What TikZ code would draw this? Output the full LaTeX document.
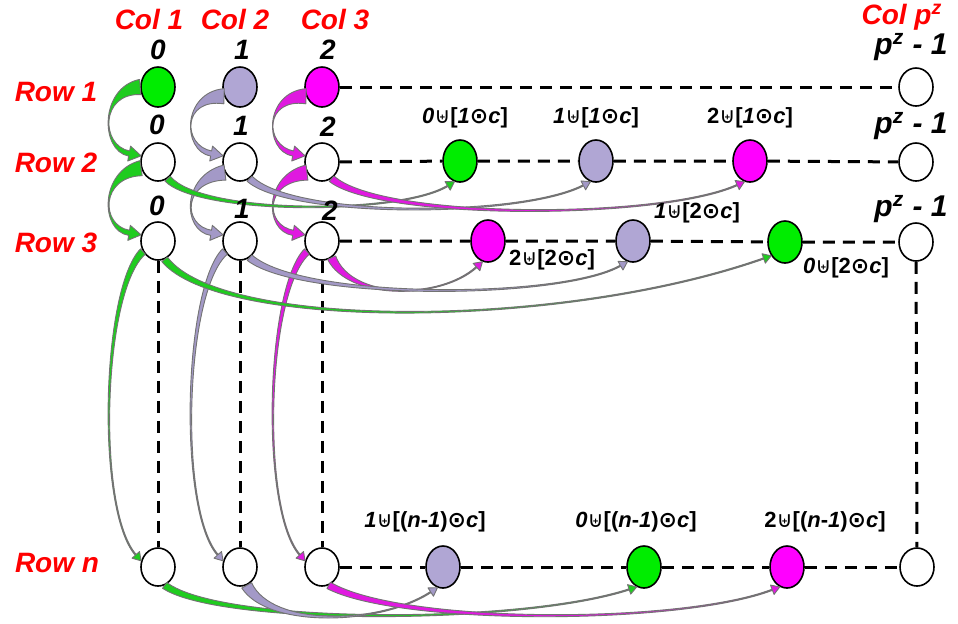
\documentclass[tikz,border=0pt]{standalone}
\usepackage{fontspec}
\setmainfont{Liberation Sans}
\newfontfamily\opfont{DejaVu Sans}
\usetikzlibrary{shapes.geometric,calc}
\definecolor{mygreen}{rgb}{0,0.93,0}
\definecolor{mylilac}{rgb}{0.69,0.65,0.83}
\definecolor{mymagenta}{rgb}{1,0,1}
\definecolor{arrgreen}{rgb}{0.12,0.8,0.12}
\definecolor{arrlilac}{rgb}{0.64,0.6,0.78}
\definecolor{arrmagenta}{rgb}{0.88,0.1,0.88}

\tikzset{
  cell/.style={ellipse, draw, line width=0.8pt, minimum width=17pt, minimum height=19pt, inner sep=0pt, fill=white},
  link/.style={line width=1.5pt, dash pattern=on 6pt off 4pt},
  band/.style={draw=black!55, line width=0.45pt, line join=round},
  rowlab/.style={text=red, font=\fontsize{14}{16}\selectfont\bfseries\itshape},
  numlab/.style={font=\fontsize{14}{16}\selectfont\bfseries\itshape},
  idxlab/.style={font=\fontsize{11}{13}\selectfont\bfseries}
}

% union and product signs
\newcommand{\shup}{{\opfont\mdseries ⊎}}
\newcommand{\shdot}{{\opfont\bfseries ⊙}}

% tapered curved arrow: fill, tail, control 1, control 2, tip, tail/neck/head half widths
\newcommand{\bandarrow}[8]{%
  \path (#2) coordinate (ba-s) (#3) coordinate (ba-c1) (#4) coordinate (ba-c2) (#5) coordinate (ba-h);
  \path ($(ba-h)!{1.6*#8}!(ba-c2)$) coordinate (ba-t);
  \path ($(ba-s)!#6!90:(ba-c1)$) coordinate (ba-s1)
        ($(ba-s)!#6!-90:(ba-c1)$) coordinate (ba-s2)
        ($(ba-t)!#7!-90:(ba-c2)$) coordinate (ba-t1)
        ($(ba-t)!#7!90:(ba-c2)$) coordinate (ba-t2)
        ($(ba-t)!#8!-90:(ba-c2)$) coordinate (ba-w1)
        ($(ba-t)!#8!90:(ba-c2)$) coordinate (ba-w2);
  \filldraw[band, fill=#1]
    (ba-s1) .. controls ($(ba-c1)+0.35*(ba-s1)-0.35*(ba-s)$) and ($(ba-c2)+(ba-t1)-(ba-t)$) .. (ba-t1)
    -- (ba-w1) -- (ba-h) -- (ba-w2) -- (ba-t2)
    .. controls ($(ba-c2)+(ba-t2)-(ba-t)$) and ($(ba-c1)+0.35*(ba-s2)-0.35*(ba-s)$) .. (ba-s2) -- cycle;
}

\begin{document}
\begin{tikzpicture}[x=0.5pt, y=-0.5pt]
\useasboundingbox (0,0) rectangle (958,623);

% Draw the first row
\node[cell, fill=mygreen, minimum height=20pt] (r1c1) at (158,87) {};
\node[cell, fill=mylilac, minimum height=20pt] (r1c2) at (240,87) {};
\node[cell, fill=mymagenta, minimum height=20pt] (r1c3) at (322,87) {};
\node[cell] (r1p) at (916,87) {};

% Draw the second row
\node[cell] (r2c1) at (158,162) {};
\node[cell] (r2c2) at (240,162) {};
\node[cell] (r2c3) at (322,162) {};
\node[cell, fill=mygreen, minimum height=21pt] (r2g) at (460,161) {};
\node[cell, fill=mylilac, minimum height=21pt] (r2l) at (596,161) {};
\node[cell, fill=mymagenta, minimum height=21pt] (r2m) at (750,161) {};
\node[cell] (r2p) at (916,162) {};

% Draw the third row
\node[cell] (r3c1) at (158,241) {};
\node[cell] (r3c2) at (240,241) {};
\node[cell] (r3c3) at (322,241) {};
\node[cell, fill=mymagenta, minimum height=21pt] (r3m) at (488,241) {};
\node[cell, fill=mylilac, minimum height=21pt] (r3l) at (633,241) {};
\node[cell, fill=mygreen, minimum height=21pt] (r3g) at (785,242) {};
\node[cell] (r3p) at (916,242) {};

% Draw the last row
\node[cell] (rnc1) at (158,567) {};
\node[cell] (rnc2) at (240,567) {};
\node[cell] (rnc3) at (322,567) {};
\node[cell, fill=mylilac, minimum height=21pt] (rnl) at (443,567) {};
\node[cell, fill=mygreen, minimum height=21pt] (rng) at (644,567) {};
\node[cell, fill=mymagenta, minimum height=21pt] (rnm) at (787,567) {};
\node[cell] (rnp) at (917,567) {};

% Draw the dashed links
\draw[link] (r1c3) -- (r1p);
\draw[link] (r2c3) -- (r2g) -- (r2l) -- (r2m) -- (r2p);
\draw[link] (r3c3) -- (r3m) -- (r3l) -- (r3g) -- (r3p);
\draw[link] (rnc3) -- (rnl) -- (rng) -- (rnm) -- (rnp);
\draw[link] (r3c1) -- (rnc1);
\draw[link] (r3c2) -- (rnc2);
\draw[link] (r3c3) -- (rnc3);
\draw[link] (r3p) -- (rnp);

% Draw the arrows down each column
\bandarrow{arrgreen}{r1c1.west}{100,90}{100,148}{r2c1.160}{3.8pt}{1.3pt}{3.8pt}
\bandarrow{arrgreen}{r2c1.200}{100,174}{100,228}{r3c1.160}{3.8pt}{1.3pt}{3.8pt}
\bandarrow{arrgreen}{r3c1.215}{102,290}{96,510}{rnc1.160}{1.8pt}{0.3pt}{2.5pt}
\bandarrow{arrlilac}{r1c2.210}{182,95}{182,148}{r2c2.160}{3.8pt}{1.3pt}{3.8pt}
\bandarrow{arrlilac}{r2c2.215}{182,178}{182,228}{r3c2.160}{3.8pt}{1.3pt}{3.8pt}
\bandarrow{arrlilac}{r3c2.215}{184,290}{178,510}{rnc2.160}{1.8pt}{0.3pt}{2.5pt}
\bandarrow{arrmagenta}{r1c3.210}{264,95}{264,148}{r2c3.160}{3.8pt}{1.3pt}{3.8pt}
\bandarrow{arrmagenta}{r2c3.215}{264,178}{264,228}{r3c3.160}{3.8pt}{1.3pt}{3.8pt}
\bandarrow{arrmagenta}{r3c3.215}{266,290}{260,510}{rnc3.160}{1.8pt}{0.3pt}{2.5pt}

% Draw the arrows along the second row
\bandarrow{arrgreen}{r2c1.300}{200,215}{400,215}{r2g.255}{1.8pt}{0.3pt}{2.5pt}
\bandarrow{arrlilac}{r2c2.300}{290,218}{520,218}{r2l.255}{1.8pt}{0.3pt}{2.5pt}
\bandarrow{arrmagenta}{r2c3.300}{380,220}{660,220}{r2m.255}{1.8pt}{0.3pt}{2.5pt}

% Draw the arrows along the third row
\bandarrow{arrmagenta}{r3c3.300}{350,300}{440,300}{r3m.255}{2.2pt}{0.3pt}{2.5pt}
\bandarrow{arrlilac}{r3c2.300}{300,300}{560,300}{r3l.255}{1.8pt}{0.3pt}{2.5pt}
\bandarrow{arrgreen}{r3c1.290}{220,330}{560,330}{r3g.225}{1.8pt}{0.3pt}{2.5pt}

% Draw the arrows along the last row
\bandarrow{arrgreen}{rnc1.290}{220,625}{520,625}{rng.250}{1.8pt}{0.3pt}{2.5pt}
\bandarrow{arrlilac}{rnc2.290}{270,628}{380,625}{rnl.255}{2.8pt}{0.3pt}{2.5pt}
\bandarrow{arrmagenta}{rnc3.290}{400,625}{680,625}{rnm.250}{1.8pt}{0.3pt}{2.5pt}

% Label the rows and the columns
\node[rowlab] (row1) at (56,92) {Row 1};
\node[rowlab] (row2) at (56,163) {Row 2};
\node[rowlab] (row3) at (56,243) {Row 3};
\node[rowlab] (rown) at (57,563) {Row n};
\node[rowlab] (col1) at (149,19) {Col 1};
\node[rowlab] (col2) at (235,19) {Col 2};
\node[rowlab] (col3) at (335,19) {Col 3};
\node[rowlab] (colp) at (902,17) {Col p\textsuperscript{z}};

% Label the column numbers
\node[numlab] (n10) at (158,50) {0};
\node[numlab] (n11) at (242,50) {1};
\node[numlab] (n12) at (328,50) {2};
\node[numlab] (n20) at (157,125) {0};
\node[numlab] (n21) at (241,126) {1};
\node[numlab] (n22) at (328,127) {2};
\node[numlab] (n30) at (157,206) {0};
\node[numlab] (n31) at (242,209) {1};
\node[numlab] (n32) at (330,211) {2};
\node[numlab, font=\fontsize{15}{17}\selectfont\bfseries\itshape] (np1) at (911,47) {p\textsuperscript{z} - 1};
\node[numlab, font=\fontsize{15}{17}\selectfont\bfseries\itshape] (np2) at (911,126) {p\textsuperscript{z} - 1};
\node[numlab, font=\fontsize{15}{17}\selectfont\bfseries\itshape] (np3) at (911,209) {p\textsuperscript{z} - 1};

% Label the shifted cells
\node[idxlab] (i2g) at (465,118) {\textit{0}\shup[\textit{1}\shdot\textit{c}]};
\node[idxlab] (i2l) at (596,118) {\textit{1}\shup[\textit{1}\shdot\textit{c}]};
\node[idxlab] (i2m) at (750,118) {2\shup[\textit{1}\shdot\textit{c}]};
\node[idxlab] (i3m) at (552,260) {2\shup[2\shdot\textit{c}]};
\node[idxlab] (i3l) at (697,213) {\textit{1}\shup[2\shdot\textit{c}]};
\node[idxlab] (i3g) at (846,268) {\textit{0}\shup[2\shdot\textit{c}]};
\node[idxlab] (inl) at (425,522) {\textit{1}\shup[(\textit{n}-\textit{1})\shdot\textit{c}]};
\node[idxlab] (ing) at (636,522) {\textit{0}\shup[(\textit{n}-\textit{1})\shdot\textit{c}]};
\node[idxlab] (inm) at (825,522) {2\shup[(\textit{n}-\textit{1})\shdot\textit{c}]};
\end{tikzpicture}
\end{document}
